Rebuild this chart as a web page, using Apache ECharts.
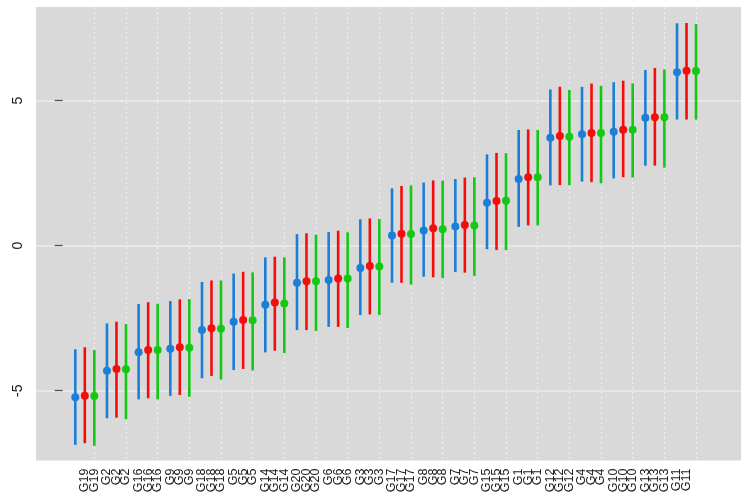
<!DOCTYPE html>
<html>
<head>
<meta charset="utf-8">
<script src="https://cdn.jsdelivr.net/npm/echarts@6/dist/echarts.min.js"></script>
<style>
  html, body { margin: 0; padding: 0; background: #ffffff; }
  #chart { width: 742px; height: 496px; }
</style>
</head>
<body>
<div id="chart"></div>
<script>
// Group names, in plotting order (one slot per group on the x axis)
const groups = ['G19', 'G2', 'G16', 'G9', 'G18', 'G5', 'G14', 'G20', 'G6', 'G3',
                'G17', 'G8', 'G7', 'G15', 'G1', 'G12', 'G4', 'G10', 'G13', 'G11'];

// Estimates with lower / upper interval bounds, one triple of arrays per series
const blueMid  = [-5.23, -4.31, -3.67, -3.55, -2.91, -2.62, -2.04, -1.28, -1.18, -0.77,
                   0.35,  0.52,  0.66,  1.48,  2.30,  3.72,  3.84,  3.93,  4.41,  5.98];
const blueLow  = [-6.87, -5.95, -5.30, -5.18, -4.57, -4.29, -3.68, -2.91, -2.80, -2.39,
                  -1.28, -1.07, -0.91, -0.12,  0.65,  2.08,  2.21,  2.32,  2.76,  4.35];
const blueHigh = [-3.57, -2.68, -2.01, -1.91, -1.25, -0.96, -0.40,  0.40,  0.47,  0.91,
                   1.98,  2.18,  2.30,  3.15,  3.99,  5.39,  5.48,  5.64,  6.06,  7.67];

const redMid   = [-5.17, -4.25, -3.60, -3.50, -2.85, -2.56, -1.96, -1.23, -1.13, -0.70,
                   0.41,  0.60,  0.71,  1.54,  2.36,  3.78,  3.89,  4.00,  4.43,  6.03];
const redLow   = [-6.81, -5.93, -5.26, -5.15, -4.49, -4.25, -3.62, -2.91, -2.80, -2.37,
                  -1.28, -1.09, -0.93, -0.15,  0.70,  2.09,  2.19,  2.36,  2.76,  4.35];
const redHigh  = [-3.50, -2.62, -1.95, -1.85, -1.20, -0.90, -0.38,  0.43,  0.52,  0.94,
                   2.06,  2.25,  2.35,  3.20,  4.01,  5.48,  5.59,  5.69,  6.13,  7.68];

const greenMid  = [-5.18, -4.26, -3.60, -3.52, -2.86, -2.57, -1.99, -1.23, -1.13, -0.72,
                    0.40,  0.57,  0.70,  1.55,  2.36,  3.76,  3.89,  4.00,  4.43,  6.02];
const greenLow  = [-6.90, -5.98, -5.30, -5.21, -4.61, -4.30, -3.70, -2.94, -2.84, -2.39,
                   -1.34, -1.12, -1.04, -0.15,  0.70,  2.09,  2.15,  2.35,  2.69,  4.35];
const greenHigh = [-3.60, -2.70, -2.00, -1.84, -1.20, -0.92, -0.40,  0.38,  0.46,  0.92,
                    2.08,  2.24,  2.36,  3.19,  3.99,  5.37,  5.51,  5.60,  6.08,  7.64];

// Y tick values
const yTicks = [-5, 0, 5];

// Series definitions: colour and horizontal offset from the group position
const seriesDefs = [
  { name: 'blue',  color: '#1b7fd8', offset: -0.6, mid: blueMid,  low: blueLow,  high: blueHigh },
  { name: 'red',   color: '#f50d0d', offset: -0.3, mid: redMid,   low: redLow,   high: redHigh },
  { name: 'green', color: '#14c814', offset:  0.0, mid: greenMid, low: greenLow, high: greenHigh }
];

// Group i (0-based) sits at x = i + 1; each series is dodged by its offset
const groupPos = groups.map((g, i) => i + 1);
const labelPos = [];
const labelText = {};
groups.forEach((g, i) => {
  seriesDefs.forEach(s => {
    const x = groupPos[i] + s.offset;
    labelPos.push(x);
    labelText[Math.round(x * 10)] = g;
  });
});

const series = [];
seriesDefs.forEach(s => {
  const pts = groups.map((g, i) => [groupPos[i] + s.offset, s.mid[i], s.low[i], s.high[i]]);
  series.push({
    type: 'custom',
    name: s.name + ' interval',
    z: 2,
    silent: true,
    data: pts,
    encode: { x: 0, y: [1, 2, 3] },
    renderItem: function (params, api) {
      const x = api.value(0);
      const a = api.coord([x, api.value(2)]);
      const b = api.coord([x, api.value(3)]);
      return {
        type: 'line',
        shape: { x1: a[0], y1: a[1], x2: b[0], y2: b[1] },
        style: { stroke: s.color, lineWidth: 2.6 }
      };
    }
  });
  series.push({
    type: 'scatter',
    name: s.name,
    z: 3,
    silent: true,
    symbol: 'circle',
    symbolSize: 8,
    itemStyle: { color: s.color, opacity: 1 },
    data: pts.map(p => [p[0], p[1]])
  });
});

const chart = echarts.init(document.getElementById('chart'), null, { renderer: 'canvas' });
chart.setOption({
  animation: false,
  backgroundColor: '#ffffff',
  textStyle: { fontFamily: 'Liberation Sans, Arial, sans-serif' },
  grid: {
    left: 36, right: 1, top: 7, bottom: 35.5,
    show: true, backgroundColor: '#d9d9d9', borderWidth: 0
  },
  xAxis: {
    type: 'value',
    min: -0.841,
    max: 21.42,
    axisLine: { show: false },
    axisTick: { show: false, customValues: groupPos },
    splitLine: {
      show: true,
      lineStyle: { color: '#f0f0f0', width: 1, type: [2, 3] }
    },
    axisLabel: {
      customValues: labelPos,
      rotate: 90,
      margin: 8,
      fontSize: 12.5,
      color: '#1a1a1a',
      fontFamily: 'Liberation Sans, Arial, sans-serif',
      formatter: v => labelText[Math.round(v * 10)] || ''
    }
  },
  yAxis: {
    type: 'value',
    min: -7.407,
    max: 8.231,
    axisLine: { show: false },
    axisTick: {
      show: true, customValues: yTicks, length: 8,
      lineStyle: { color: '#4d4d4d', width: 1.2 }
    },
    splitLine: {
      show: true,
      lineStyle: { color: '#ebebeb', width: 1.5 }
    },
    axisLabel: {
      customValues: yTicks,
      rotate: 90,
      margin: 11,
      fontSize: 14,
      color: '#1a1a1a',
      fontFamily: 'Liberation Sans, Arial, sans-serif'
    }
  },
  series: series
});
</script>
</body>
</html>
